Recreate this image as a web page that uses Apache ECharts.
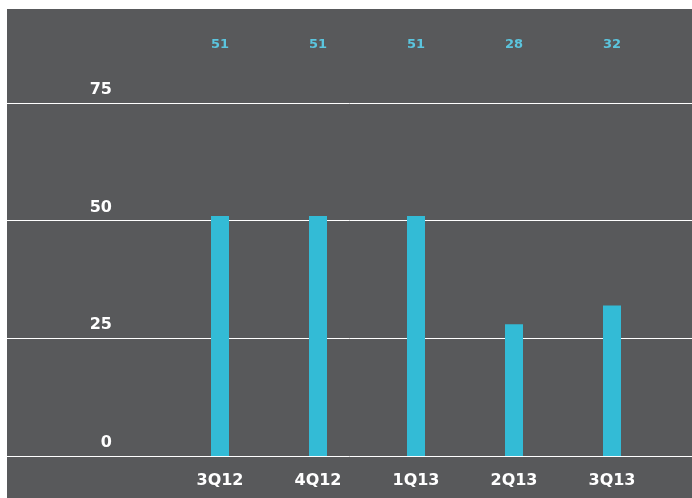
<!DOCTYPE html>
<html>
<head>
<meta charset="utf-8">
<script src="https://cdn.jsdelivr.net/npm/echarts@6/dist/echarts.min.js"></script>
<style>
html,body{margin:0;padding:0;background:#ffffff;}
#main{width:692px;height:498px;}
</style>
</head>
<body>
<div id="main"></div>
<script>
var categories = ['3Q12', '4Q12', '1Q13', '2Q13', '3Q13'];
var values = [51, 51, 51, 28, 32];
var yTicks = [0, 25, 50, 75];

var chart = echarts.init(document.getElementById('main'));
var font = 'DejaVu Sans';
chart.setOption({
  animation: false,
  graphic: [{
    type: 'rect', z: -100, silent: true,
    shape: {x: 7, y: 9, width: 685, height: 489},
    style: {fill: '#58595b'}
  }],
  grid: [
    {left: 7, right: 0, top: 103, bottom: 42},
    {left: 171, right: 31, top: 103, bottom: 42}
  ],
  xAxis: [
    {gridIndex: 0, type: 'category', data: categories, show: false},
    {gridIndex: 1, type: 'category', data: categories, position: 'bottom',
      axisLine: {show: false}, axisTick: {show: false},
      axisLabel: {color: '#ffffff', fontFamily: font, fontWeight: 'bold', fontSize: 16, margin: 17}},
    {gridIndex: 1, type: 'category', data: values.map(String), position: 'top',
      axisLine: {show: false}, axisTick: {show: false},
      axisLabel: {color: '#5bc5de', fontFamily: font, fontWeight: 'bold', fontSize: 13, margin: 52}}
  ],
  yAxis: [
    {gridIndex: 0, type: 'value', min: yTicks[0], max: yTicks[yTicks.length - 1], interval: 25,
      axisLine: {show: false}, axisTick: {show: false},
      splitLine: {lineStyle: {color: '#ffffff', width: 1}},
      axisLabel: {inside: true, align: 'right', margin: 105, verticalAlign: 'bottom',
        padding: [0, 0, 5, 0], color: '#ffffff', fontFamily: font, fontWeight: 'bold', fontSize: 16}},
    {gridIndex: 1, type: 'value', min: yTicks[0], max: yTicks[yTicks.length - 1], interval: 25, show: false,
      splitLine: {show: false}}
  ],
  series: [{
    type: 'bar', xAxisIndex: 1, yAxisIndex: 1, data: values, barWidth: 18,
    itemStyle: {color: '#33bbd6'}
  }]
});
</script>
</body>
</html>
